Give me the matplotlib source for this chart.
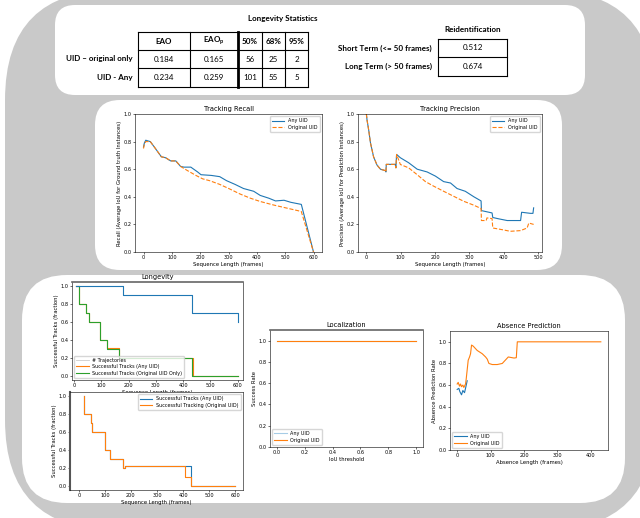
import numpy as np
import matplotlib
matplotlib.use("Agg")
import matplotlib.pyplot as plt
from matplotlib.patches import FancyBboxPatch

W, H = 640, 518

# ---------------- data ----------------
lon_cols = ["EAO", r"EAO$_{\mathregular{p}}$", "50%", "68%", "95%"]
lon_rows = ["UID \u2013 original only", "UID - Any"]
lon_vals = [["0.184", "0.165", "56", "25", "2"],
            ["0.234", "0.259", "101", "55", "5"]]
reid_rows = ["Short Term (<= 50 frames)", "Long Term (> 50 frames)"]
reid_vals = ["0.512", "0.674"]

rec_any_x = [0, 3, 8, 24, 42, 63, 78, 96, 114, 131, 143, 167, 191, 203, 239, 269, 293, 323, 353, 389, 412, 442, 466, 496, 520, 557, 600]
rec_any_y = [0.76, 0.79, 0.81, 0.80, 0.75, 0.69, 0.683, 0.66, 0.66, 0.62, 0.615, 0.615, 0.58, 0.56, 0.555, 0.546, 0.517, 0.49, 0.46, 0.44, 0.41, 0.39, 0.37, 0.375, 0.36, 0.345, 0.0]
rec_org_x = [0, 3, 8, 24, 42, 63, 78, 96, 114, 131, 155, 185, 209, 233, 269, 305, 341, 377, 412, 460, 508, 544, 557, 600]
rec_org_y = [0.75, 0.78, 0.80, 0.80, 0.75, 0.69, 0.683, 0.66, 0.66, 0.62, 0.59, 0.555, 0.53, 0.517, 0.49, 0.456, 0.42, 0.39, 0.366, 0.34, 0.317, 0.30, 0.293, 0.0]

pre_any_x = [0, 2, 7, 12, 21, 31, 41, 55, 57, 58, 84, 86, 88, 99, 123, 148, 177, 201, 225, 245, 264, 288, 313, 334, 335, 366, 368, 386, 410, 449, 452, 478, 485, 487]
pre_any_y = [1.0, 0.956, 0.88, 0.79, 0.69, 0.63, 0.60, 0.59, 0.58, 0.635, 0.635, 0.61, 0.707, 0.683, 0.647, 0.60, 0.58, 0.55, 0.51, 0.50, 0.46, 0.44, 0.40, 0.37, 0.30, 0.283, 0.25, 0.24, 0.228, 0.228, 0.288, 0.28, 0.28, 0.32]
pre_org_x = [0, 2, 7, 12, 21, 31, 41, 55, 57, 58, 84, 86, 88, 99, 123, 148, 172, 196, 225, 254, 283, 313, 334, 335, 349, 351, 366, 368, 395, 419, 449, 468, 473, 487]
pre_org_y = [1.0, 0.956, 0.88, 0.79, 0.69, 0.63, 0.60, 0.59, 0.58, 0.635, 0.635, 0.61, 0.707, 0.634, 0.61, 0.56, 0.51, 0.477, 0.44, 0.404, 0.368, 0.339, 0.315, 0.228, 0.228, 0.247, 0.242, 0.174, 0.162, 0.15, 0.155, 0.174, 0.21, 0.20]

lng_any_x = [5, 181, 431, 600, 603]
lng_any_y = [1.0, 0.9, 0.7, 0.7, 0.6]
lng_org_x = [5, 19, 44, 56, 96, 122, 166, 431, 600]
lng_org_y = [1.0, 0.8, 0.7, 0.6, 0.4, 0.3, 0.2, 0.0, 0.0]
lng_anyt_x = [5, 19, 44, 56, 96, 122, 166, 436, 600]
lng_anyt_y = [1.0, 0.8, 0.7, 0.6, 0.4, 0.31, 0.2, 0.0, 0.0]

sc_any_x = [21, 21, 46, 52, 100, 121, 171, 177, 431, 600]
sc_any_y = [1.0, 0.8, 0.7, 0.6, 0.4, 0.3, 0.2, 0.22, 0.0, 0.0]
sc_org_x = [21, 21, 46, 52, 100, 102, 121, 171, 177, 409, 431, 600]
sc_org_y = [1.0, 0.8, 0.7, 0.6, 0.6, 0.4, 0.3, 0.2, 0.22, 0.1, 0.0, 0.0]

loc_x = [0.0, 1.0]
loc_any = [1.0, 1.0]
loc_org = [1.0, 1.0]

abs_org_x = [0, 3, 7, 10, 13, 17, 20, 25, 27, 33, 37, 40, 43, 48, 60, 75, 85, 90, 95, 105, 120, 135, 153, 170, 177, 180, 430]
abs_org_y = [0.61, 0.625, 0.59, 0.61, 0.585, 0.60, 0.578, 0.61, 0.656, 0.83, 0.86, 0.89, 0.97, 0.96, 0.92, 0.89, 0.86, 0.84, 0.80, 0.79, 0.79, 0.80, 0.86, 0.85, 0.853, 1.0, 1.0]
abs_any_x = [0, 5, 8, 13, 17, 22, 26, 30]
abs_any_y = [0.56, 0.57, 0.54, 0.51, 0.55, 0.53, 0.584, 0.64]

# ---------------- figure / backdrop ----------------
fig = plt.figure(figsize=(W / 100, H / 100), dpi=100)
bg = fig.add_axes([0, 0, 1, 1])
bg.set_xlim(0, W)
bg.set_ylim(H, 0)
bg.axis("off")

grey = "#c9c9c9"
def rbox(x0, y0, x1, y1, r, color):
    bg.add_patch(FancyBboxPatch((x0, y0), x1 - x0, y1 - y0,
                                boxstyle="round,pad=0,rounding_size=%d" % r,
                                fc=color, ec="none"))

rbox(5, -10, 655, 530, 110, grey)
rbox(55, 5, 585, 95, 20, "white")
rbox(95, 100, 562, 270, 25, "white")
rbox(22, 275, 625, 503, 45, "white")

# ---------------- tables ----------------
tfont = "Lato"
fs = 5.8
bg.text(283, 18, "Longevity Statistics", ha="center", va="center", fontsize=fs, fontweight="bold", family=tfont)
xs = [138, 190, 238, 262, 285, 308]
ys = [32, 50, 68, 87]
for x in xs:
    lw = 2.0 if x == 238 else 0.8
    bg.plot([x, x], [ys[0], ys[-1]], color="black", lw=lw)
for y in ys:
    bg.plot([xs[0], xs[-1]], [y, y], color="black", lw=0.8)
for j, c in enumerate(lon_cols):
    bg.text((xs[j] + xs[j + 1]) / 2, (ys[0] + ys[1]) / 2, c, ha="center", va="center",
            fontsize=fs, fontweight="bold", family=tfont)
for i, r in enumerate(lon_rows):
    yc = (ys[i + 1] + ys[i + 2]) / 2
    bg.text(133, yc, r, ha="right", va="center", fontsize=fs, fontweight="bold", family=tfont)
    for j, v in enumerate(lon_vals[i]):
        bg.text((xs[j] + xs[j + 1]) / 2, yc, v, ha="center", va="center", fontsize=fs, family=tfont)

bg.text(473, 29, "Reidentification", ha="center", va="center", fontsize=fs, fontweight="bold", family=tfont)
rx = [438, 507]
ry = [39, 57, 76]
for x in rx:
    bg.plot([x, x], [ry[0], ry[-1]], color="black", lw=0.8)
for y in ry:
    bg.plot(rx, [y, y], color="black", lw=0.8)
for i, r in enumerate(reid_rows):
    yc = (ry[i] + ry[i + 1]) / 2
    bg.text(432, yc, r, ha="right", va="center", fontsize=fs, fontweight="bold", family=tfont)
    bg.text((rx[0] + rx[1]) / 2, yc, reid_vals[i], ha="center", va="center", fontsize=fs, family=tfont)

# ---------------- plots ----------------
def pax(x0, y0, x1, y1):
    a = fig.add_axes([x0 / W, 1 - y1 / H, (x1 - x0) / W, (y1 - y0) / H])
    a.tick_params(labelsize=3.6, length=1.5, width=0.4, pad=1)
    for s in a.spines.values():
        s.set_linewidth(0.4)
    return a

lab = dict(fontsize=3.8, labelpad=1)
tit = dict(fontsize=4.8, pad=2)
leg = dict(fontsize=3.5, handlelength=2.5, borderpad=0.4, labelspacing=0.3)

a = pax(135, 114, 322, 252)
a.plot(rec_any_x, rec_any_y, color="tab:blue", lw=0.8, label="Any UID")
a.plot(rec_org_x, rec_org_y, color="tab:orange", lw=0.8, ls="--", label="Original UID")
a.set_ylim(0, 1)
a.set_xticks([0, 100, 200, 300, 400, 500, 600])
a.set_title("Tracking Recall", **tit)
a.set_xlabel("Sequence Length (frames)", **lab)
a.set_ylabel("Recall (Average IoU for Ground truth Instances)", **lab)
a.legend(loc="upper right", **leg)

a = pax(358, 114, 542, 252)
a.plot(pre_any_x, pre_any_y, color="tab:blue", lw=0.8, label="Any UID")
a.plot(pre_org_x, pre_org_y, color="tab:orange", lw=0.8, ls="--", label="Original UID")
a.set_ylim(0, 1)
a.set_xticks([0, 100, 200, 300, 400, 500])
a.set_title("Tracking Precision", **tit)
a.set_xlabel("Sequence Length (frames)", **lab)
a.set_ylabel("Precision (Average IoU for Prediction Instances)", **lab)
a.legend(loc="upper right", **leg)

a = pax(72, 282, 243, 380)
a.plot([0, 600], [np.nan, np.nan], color="#cccccc", lw=0.6, label="# Trajectories")
a.step(lng_anyt_x, lng_anyt_y, where="post", color="tab:orange", lw=0.8, label="Successful Tracks (Any UID)")
a.step(lng_org_x, lng_org_y, where="post", color="tab:green", lw=0.8, label="Successful Tracks (Original UID Only)")
a.step(lng_any_x, lng_any_y, where="post", color="tab:blue", lw=0.8)
a.set_xlim(-8, 620)
a.set_xticks([0, 100, 200, 300, 400, 500, 600])
a.set_title("Longevity", **tit)
a.set_xlabel("Sequence Length (frames)", **lab)
a.set_ylabel("Successful Tracks (fraction)", **lab)
a.spines["top"].set_linewidth(1.2)
a.spines["top"].set_color("#666666")
a.legend(loc="lower left", **leg)

a = pax(70, 392, 243, 490)
a.step(sc_any_x, sc_any_y, where="post", color="tab:blue", lw=0.8, label="Successful Tracks (Any UID)")
a.step(sc_org_x, sc_org_y, where="post", color="tab:orange", lw=0.8, label="Successful Tracking (Original UID)")
a.set_xlim(-34, 630)
a.set_xticks([0, 100, 200, 300, 400, 500, 600])
a.set_xlabel("Sequence Length (frames)", **lab)
a.set_ylabel("Successful Tracks (fraction)", **lab)
a.spines["left"].set_linewidth(1.5)
a.spines["left"].set_color("#555555")
a.legend(loc="upper right", **leg)

a = pax(270, 330, 423, 447)
a.plot(loc_x, loc_any, color="#a6cce6", lw=0.8, label="Any UID")
a.plot(loc_x, loc_org, color="tab:orange", lw=0.8, label="Original UID")
a.set_ylim(0, 1.1)
a.set_yticks([0, 0.2, 0.4, 0.6, 0.8, 1.0])
a.set_title("Localization", **tit)
a.set_xlabel("IoU threshold", **lab)
a.set_ylabel("Success Rate", **lab)
a.spines["top"].set_linewidth(1.2)
a.spines["top"].set_color("#666666")
a.legend(loc="lower left", **leg)

a = pax(450, 331, 608, 450)
a.plot(abs_any_x, abs_any_y, color="tab:blue", lw=0.8, label="Any UID")
a.plot(abs_org_x, abs_org_y, color="tab:orange", lw=0.8, label="Original UID")
a.set_ylim(0, 1.1)
a.set_yticks([0, 0.2, 0.4, 0.6, 0.8, 1.0])
a.set_xticks([0, 100, 200, 300, 400])
a.set_title("Absence Prediction", **tit)
a.set_xlabel("Absence Length (frames)", **lab)
a.set_ylabel("Absence Prediction Rate", **lab)
a.legend(loc="lower left", **leg)

fig.savefig("out.png", dpi=100)
